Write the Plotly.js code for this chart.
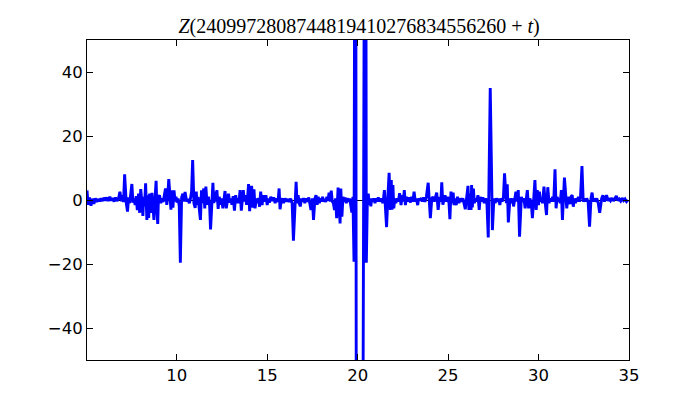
<!DOCTYPE html>
<html>
<head>
<meta charset="utf-8">
<script src="https://cdn.plot.ly/plotly-3.0.1.min.js"></script>
<style>html,body{margin:0;padding:0;background:#fff;}#chart{width:700px;height:400px;}</style>
</head>
<body>
<div id="chart"></div>
<script>
// t offsets (x) and Z values (y)
const tValues = [
5.04,5.10,5.18,5.26,5.34,5.42,5.50,5.58,5.66,5.74,5.82,5.90,5.98,6.06,6.14,6.22,6.30,6.38,6.46,6.54,6.62,6.70,6.78,6.86,6.94,7.00,7.06,7.12,7.21,7.28,7.34,7.40,7.46,7.52,7.58,7.64,7.70,7.76,7.82,7.89,7.95,8.01,8.08,8.13,8.17,8.22,8.28,8.35,8.40,8.45,8.50,8.56,8.63,8.68,8.74,8.81,8.86,8.90,8.95,8.99,9.05,9.12,9.18,9.25,9.32,9.38,9.45,9.50,9.56,9.63,9.68,9.73,9.79,9.85,9.91,9.96,10.02,10.08,10.14,10.20,10.27,10.34,10.40,10.46,10.55,10.62,10.70,10.76,10.82,10.88,10.95,11.02,11.08,11.12,11.18,11.25,11.31,11.37,11.43,11.49,11.55,11.61,11.68,11.75,11.82,11.87,11.94,12.00,12.05,12.11,12.17,12.22,12.29,12.35,12.42,12.48,12.55,12.61,12.67,12.74,12.80,12.86,12.93,12.99,13.05,13.12,13.19,13.26,13.32,13.38,13.44,13.50,13.57,13.62,13.68,13.74,13.80,13.86,13.92,13.97,14.03,14.08,14.14,14.21,14.27,14.33,14.40,14.46,14.52,14.58,14.64,14.72,14.78,14.86,14.93,15.00,15.06,15.12,15.20,15.28,15.36,15.44,15.52,15.60,15.66,15.71,15.77,15.84,15.90,15.98,16.06,16.14,16.22,16.30,16.38,16.45,16.54,16.60,16.65,16.71,16.77,16.83,16.90,16.96,17.02,17.08,17.15,17.22,17.30,17.36,17.42,17.50,17.56,17.64,17.70,17.76,17.82,17.88,17.94,18.00,18.06,18.12,18.18,18.24,18.30,18.36,18.42,18.48,18.54,18.60,18.66,18.72,18.78,18.84,18.92,18.97,19.03,19.07,19.13,19.19,19.25,19.31,19.37,19.43,19.50,19.56,19.62,19.68,19.74,19.80,19.88,19.96,20.01,20.23,20.43,20.48,20.54,20.59,20.63,20.67,20.73,20.78,20.84,20.90,20.96,21.02,21.08,21.14,21.22,21.30,21.40,21.48,21.54,21.60,21.67,21.74,21.81,21.86,21.90,21.95,22.00,22.05,22.11,22.18,22.25,22.32,22.40,22.46,22.52,22.58,22.64,22.70,22.78,22.85,22.92,22.98,23.05,23.12,23.19,23.25,23.32,23.37,23.44,23.52,23.58,23.65,23.72,23.80,23.90,23.96,24.02,24.10,24.17,24.24,24.30,24.37,24.45,24.53,24.60,24.65,24.71,24.77,24.83,24.91,24.98,25.05,25.10,25.16,25.22,25.28,25.33,25.38,25.45,25.52,25.60,25.68,25.75,25.82,25.88,25.95,26.03,26.10,26.15,26.21,26.27,26.30,26.34,26.40,26.45,26.52,26.58,26.65,26.72,26.78,26.85,26.92,27.00,27.08,27.15,27.22,27.33,27.45,27.53,27.60,27.67,27.74,27.80,27.86,27.92,27.99,28.06,28.12,28.22,28.27,28.33,28.42,28.50,28.56,28.62,28.68,28.75,28.82,28.88,28.95,29.05,29.12,29.19,29.26,29.32,29.38,29.45,29.52,29.60,29.66,29.74,29.80,29.87,29.93,30.00,30.05,30.10,30.16,30.22,30.30,30.37,30.44,30.51,30.58,30.64,30.70,30.78,30.84,30.91,30.97,31.03,31.09,31.14,31.20,31.26,31.32,31.43,31.56,31.62,31.68,31.74,31.79,31.86,31.92,31.98,32.04,32.10,32.15,32.20,32.26,32.32,32.40,32.47,32.54,32.60,32.66,32.74,32.82,32.90,32.96,33.02,33.08,33.14,33.22,33.30,33.38,33.49,33.56,33.64,33.70,33.76,33.84,33.90,33.98,34.06,34.14,34.22,34.30,34.38,34.46,34.54,34.62,34.70,34.78,34.86,34.94,35.00
];
const zValues = [
3.0,-1.5,0.8,-1.8,0.4,-1.2,0.5,-0.6,0.3,-0.4,0.5,-0.3,0.7,-0.2,0.8,-0.3,1.0,-0.2,0.6,-0.5,0.8,-0.3,0.4,2.6,-0.4,1.5,-0.6,8.0,-1.0,-3.6,0.8,-1.0,2.0,5.0,-0.8,0.5,-1.6,1.2,-3.2,2.0,-4.0,3.4,-1.0,-5.0,1.0,-2.0,5.2,-6.2,1.5,-5.6,2.0,-4.0,2.2,-1.5,-6.2,1.2,6.0,-2.0,-7.5,0.8,1.5,-1.0,0.5,-0.6,1.2,3.6,-1.5,1.0,6.5,-0.5,-3.0,3.0,-2.4,3.0,-0.5,1.0,-0.8,0.5,-2.0,-19.6,0.8,2.0,-0.5,2.5,-0.5,0.3,-1.0,0.5,2.5,12.5,-1.0,-2.5,2.6,-1.5,1.0,-3.0,-6.2,3.0,-1.0,3.6,-2.6,4.2,-1.5,1.0,-2.0,-9.2,1.0,5.4,-1.0,2.6,-0.5,3.1,-2.8,1.0,-1.5,0.5,-2.6,1.0,2.8,-2.6,0.5,2.0,-0.8,0.5,-1.5,1.2,-3.3,1.5,-1.0,0.5,-1.0,3.1,-3.3,1.0,3.1,-0.5,1.5,-1.5,1.0,5.0,-3.5,1.5,4.4,-2.4,3.3,-2.6,0.5,-1.0,0.6,-2.1,2.6,-1.6,1.5,-0.5,1.5,-1.6,0.5,-0.8,1.0,-0.3,0.8,-1.0,0.5,-0.6,3.6,-2.9,-0.5,0.5,-1.0,0.5,-0.5,0.3,-0.6,0.4,-1.0,-12.7,1.0,5.7,-1.0,1.5,-1.0,-2.0,0.5,-0.5,0.6,-1.0,0.5,-0.5,0.8,-2.0,-3.1,0.5,-6.2,0.5,1.5,-1.5,1.0,-1.0,0.5,-0.5,1.0,-0.5,0.3,-0.6,1.0,-0.2,2.3,-0.5,2.9,-0.5,-1.0,-3.1,0.5,-5.7,3.9,-1.0,-7.3,3.6,-5.2,1.0,-0.5,0.8,-1.0,0.5,-0.5,0.5,-1.5,-3.9,1.0,-19.3,200,-200,-600,-200,200,-19.6,1.0,2.0,-1.5,0.5,-2.0,0.5,-0.5,0.5,-1.0,0.5,-0.5,0.8,-0.5,0.5,-1.0,3.1,-2.6,-8.5,1.0,8.5,-3.1,6.2,-3.0,4.7,-2.6,0.5,-1.0,0.5,-0.5,2.1,-1.6,1.5,-0.5,3.1,-1.6,1.0,-0.5,0.8,-0.8,1.0,-0.5,2.6,-0.5,0.5,-1.6,0.5,-0.2,0.6,-0.5,0.8,-0.6,1.0,5.4,-0.5,-5.7,0.5,1.0,-0.5,1.0,2.3,-3.1,1.0,-0.5,5.5,-1.5,0.5,1.5,-0.5,1.0,-1.0,-6.0,2.6,-1.0,2.3,-1.6,0.5,-1.6,1.0,-1.0,0.5,-0.5,0.5,-1.5,-2.9,1.0,4.4,-3.1,2.0,-3.1,4.7,-2.3,3.6,-1.0,0.5,-0.5,1.5,-3.1,1.0,-0.5,0.8,-1.0,0.5,-1.5,-11.7,35.0,-9.4,0.5,-1.0,0.5,-0.5,0.5,-1.6,0.5,-0.5,1.0,8.3,-1.0,4.9,-7.0,0.5,-1.0,0.5,-2.0,0.5,2.6,-0.5,3.1,-11.5,1.0,-0.5,0.5,-2.6,0.5,3.1,-2.6,0.5,-1.0,-5.7,1.0,6.2,-3.1,3.1,-1.6,2.6,-0.5,0.5,-1.0,4.2,-1.0,-4.7,4.0,-1.0,0.5,-0.5,1.0,-0.5,9.6,-2.6,1.0,-0.5,0.5,-1.0,3.1,-6.2,7.0,-2.6,1.0,-0.5,-1.3,1.0,1.5,-2.1,0.5,-1.0,0.5,-0.5,1.0,-0.5,1.0,10.6,-0.5,0.5,-0.5,0.5,-0.5,-8.3,0.5,2.3,-0.5,0.5,-0.5,0.5,-1.0,-4.0,0.5,1.5,-0.5,0.5,1.5,-0.3,0.5,-0.2,0.6,-0.3,0.5,1.3,-0.2,0.3,-0.3,0.6,-0.2,0.3,-0.5,0.0
];
const xTicks = [10, 15, 20, 25, 30, 35];
const yTicks = [-40, -20, 0, 20, 40];
const titleText = '<i>Z</i>(2409972808744819410276834556260 + <i>t</i>)';

const trace = {
  x: tValues, y: zValues, type: 'scatter', mode: 'lines',
  line: {color: '#0000ff', width: 2.9}, hoverinfo: 'skip'
};
const axisCommon = {
  showgrid: false, showline: true, linecolor: '#000', linewidth: 1,
  mirror: 'ticks', ticks: 'inside', ticklen: 6, tickwidth: 1, tickcolor: '#000',
  tickfont: {family: 'DejaVu Sans', size: 16.5, color: '#000'}
};
const layout = {
  width: 700, height: 400,
  margin: {l: 87, r: 71, t: 40, b: 40},
  paper_bgcolor: '#fff', plot_bgcolor: '#fff',
  showlegend: false,
  title: {text: titleText, x: 0.513, xanchor: 'center', y: 0.935, yanchor: 'middle',
          font: {family: 'Liberation Serif', size: 20, color: '#000'}},
  xaxis: Object.assign({}, axisCommon, {range: [5.04, 35], tickvals: xTicks, ticktext: xTicks.map(String), zeroline: false}),
  yaxis: Object.assign({}, axisCommon, {range: [-50, 50], tickvals: yTicks,
          ticktext: yTicks.map(v => v < 0 ? '\u2212' + Math.abs(v) : String(v)),
          zeroline: true, zerolinecolor: '#000', zerolinewidth: 1})
};
Plotly.newPlot('chart', [trace], layout, {displayModeBar: false, staticPlot: true});
</script>
</body>
</html>
